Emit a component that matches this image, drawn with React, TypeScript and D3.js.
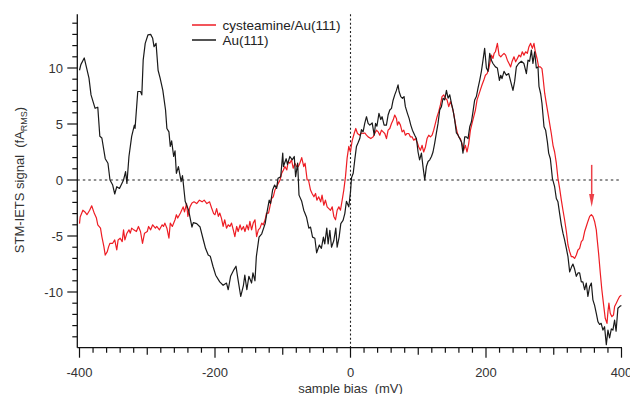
import React from "react";
import * as d3 from "d3";

// Tunnelling spectra: [sample bias (mV), STM-IETS signal (fA_RMS)]
const auSeries: [number, number][] = [
  [-400, 9.8], [-398, 10.3], [-393, 10.9], [-386, 9.1], [-383, 7.6], [-377, 6.4], [-373, 6.5], [-370, 3.9], [-367, 3.75],
  [-362, 1.9], [-358, 1.5], [-355, 0], [-351, -0.45], [-348, -1.25], [-345, -0.6], [-341, -0.75], [-335, 0], [-332, 0.75],
  [-330, -0.3], [-327, 2.1], [-323, 3.9], [-319, 4.9], [-318, 4.6], [-314, 7.9], [-310, 7.9], [-308, 7.6], [-306, 10.7],
  [-303, 12.2], [-299, 12.95], [-295, 13.0], [-292, 12.65], [-290, 11.9], [-287, 12.2], [-284, 9.8], [-281, 9.1], [-277, 8.0],
  [-273, 6.25], [-271, 4.6], [-268, 4.3], [-266, 3.0], [-264, 3.5], [-261, 2.1], [-259, 2.6], [-257, 0.6], [-254, 1.2],
  [-250, -0.15], [-248, 0.4], [-244, -1.9], [-239, -2.7], [-234, -4.2], [-232, -3.8], [-227, -3.9], [-222, -4.2], [-217, -5.4],
  [-214, -6.1], [-210, -6.7], [-207, -6.8], [-203, -7.7], [-199, -8.5], [-193, -9.1], [-188, -9.4], [-183, -9.2], [-180.5, -9.8],
  [-177, -8.6], [-172, -8.0], [-169, -7.7], [-166, -8.9], [-162, -10.4], [-158, -9.4], [-156, -8.5], [-153, -9.8], [-150, -8.6],
  [-146, -9.2], [-144, -8.3], [-141, -9.0], [-139, -6.85], [-135, -5.1], [-131, -4.8], [-126, -3.9], [-123, -2.8], [-120, -1.8],
  [-118, -2.1], [-115, -0.9], [-112, -0.45], [-109, -0.75], [-107, 0.15], [-103, 0.3], [-100, 2.4], [-99, 1.2], [-95, 1.9],
  [-93, 1.4], [-89.5, 2.1], [-86, 1.8], [-83, 2.1], [-81, 0.3], [-78, 1.5], [-76, -1.35], [-72, -1.9], [-69, -2.7], [-65, -3.3],
  [-61.5, -4.3], [-59, -4.2], [-56, -5.1], [-52.6, -5.2], [-50, -6.5], [-46, -5.8], [-43, -6.1], [-40, -5.1], [-38, -5.7],
  [-35, -4.3], [-33, -5.7], [-30.5, -4.5], [-28, -6.0], [-24.6, -5.4], [-21.7, -4.3], [-19.7, -6.0], [-16.8, -5.1], [-14.3, -3.9],
  [-11, -3.6], [-8.4, -3.0], [-6, -1.9], [-2.5, -2.4], [0, -1.05], [1.5, 0.2], [4, 0.6], [6.3, 1.8], [8.8, 3.0], [11, 3.3],
  [13.7, 3.7], [16.2, 4.5], [18.6, 4.3], [21, 5.05], [23.6, 5.65], [26, 5.05], [28.5, 4.9], [32, 5.1], [35, 4.0], [37, 5.05],
  [39, 4.8], [42, 5.95], [44.7, 5.4], [46.6, 5.65], [49.6, 4.9], [53, 4.9], [55.5, 5.8], [58, 6.25], [60.5, 6.4], [62.8, 7.1],
  [65.3, 7.6], [67.8, 8.0], [70.2, 8.5], [71.7, 7.9], [74.2, 7.45], [76.7, 7.3], [79, 7.45], [81, 6.55], [84, 5.95], [86.5, 5.5],
  [89, 4.9], [91.4, 4.45], [94.8, 4.0], [97.3, 3.7], [99.7, 2.5], [102, 1.8], [104.7, 2.4], [107, 1.2], [109.6, 0], [112, 1.2],
  [114.5, 1.65], [117, 1.8], [119.5, 2.1], [121.8, 2.5], [124.3, 3.3], [126.8, 4.2], [129.2, 5.05], [131.7, 6.25], [134.2, 6.55],
  [136.6, 7.3], [139, 7.15], [141.6, 8.0], [144, 7.3], [146.5, 7.6], [149, 6.85], [151.3, 6.25], [153.8, 5.35], [156.3, 4.2],
  [158.8, 4.0], [161.2, 3.7], [163.7, 3.4], [166, 2.4], [168.6, 3.85], [171, 3.85], [173.5, 3.7], [176, 4.75], [178.5, 5.2],
  [180.8, 6.1], [183.3, 7.15], [185.8, 7.45], [188.2, 8.2], [190.7, 8.9], [193.2, 9.7], [195.6, 10.7], [198, 11.75], [200.6, 10.0],
  [203, 9.7], [205.5, 11.3], [208, 10.7], [210.3, 10.4], [213.9, 10.1], [216.8, 10.0], [219.8, 8.9], [221.8, 9.35], [223.6, 9.05],
  [226.6, 9.7], [230, 9.35], [233.5, 9.5], [236.4, 8.8], [239.8, 8.0], [242.3, 8.8], [244.8, 10.1], [248.2, 10.4], [252.2, 10.6],
  [256, 10.4], [259.6, 9.5], [262, 10.7], [264.4, 10.6], [267, 11.6], [269.3, 10.4], [271.8, 11.45], [274.3, 10.0], [276.7, 10.1],
  [278.2, 8.35], [280.7, 7.7], [282.6, 6.85], [285.6, 4.75], [288, 4.45], [290.6, 3.4], [292.5, 2.4], [295, 1.9], [298, 0.15],
  [301.3, -0.6], [303.8, -1.65], [306.2, -1.95], [308.7, -3.0], [311.2, -4.0], [313.6, -4.75], [316, -5.35], [318.6, -6.1],
  [321, -6.85], [323.5, -8.2], [326, -7.8], [328.3, -7.5], [330.8, -7.95], [333.3, -8.6], [335.8, -8.3], [338.2, -8.3],
  [340.7, -9.1], [343, -9.1], [345.6, -9.8], [348, -9.2], [350.4, -10.4], [353, -9.5], [355.5, -9.2], [357.8, -10.7],
  [360.3, -11.2], [362.8, -11.9], [365.2, -12.65], [367.7, -12.9], [370, -12.8], [372.6, -13.4], [375, -13.1], [377.6, -14.7],
  [380, -13.4], [382.4, -14.1], [385, -13.3], [387.3, -13.4], [389.8, -12.5], [392, -13.5], [394.7, -11.45], [397.2, -11.3],
  [399.8, -11.2],
];

const cysteamineSeries: [number, number][] = [
  [-400, -3.9], [-399, -3.3], [-395, -2.7], [-392, -2.85], [-389, -3.1], [-385, -2.7], [-382, -2.3], [-378, -3.0], [-375, -3.4],
  [-373, -4.0], [-369, -4.3], [-367, -5.05], [-364, -5.95], [-362, -6.7], [-359, -6.4], [-357, -5.95], [-355, -5.65], [-351, -5.65],
  [-348, -5.35], [-345, -6.25], [-343, -5.35], [-340, -5.2], [-337, -5.5], [-335, -4.45], [-333, -5.35], [-330, -4.75], [-327, -4.45],
  [-325, -4.75], [-323, -4.3], [-320, -4.45], [-316, -4.6], [-313, -4.15], [-310, -4.6], [-307, -5.65], [-304, -4.75], [-300, -4.6],
  [-298, -4.15], [-295, -4.45], [-292, -4.0], [-288, -4.3], [-286, -4.15], [-282, -4.45], [-278, -4.0], [-276, -4.15], [-274, -3.85],
  [-271, -4.3], [-268, -5.2], [-266, -3.85], [-263, -4.15], [-259, -3.55], [-257, -3.1], [-255, -3.4], [-251, -2.95], [-247, -2.4],
  [-245, -2.85], [-242, -2.1], [-240, -3.25], [-237, -2.4], [-234, -2.05], [-231, -1.95], [-227, -2.1], [-223, -1.8], [-219, -1.95],
  [-216, -1.8], [-212, -2.1], [-208, -1.95], [-205, -2.5], [-202, -3.0], [-200, -3.1], [-197.6, -2.55], [-195, -3.25], [-193, -2.95],
  [-190.5, -3.4], [-188, -4.15], [-185.6, -3.55], [-183, -4.3], [-180.5, -4.0], [-178, -4.15], [-175.6, -3.85], [-173, -4.45],
  [-170.7, -5.05], [-168, -4.15], [-165.8, -4.6], [-163, -4.0], [-160.8, -4.45], [-158, -4.15], [-155.8, -4.6], [-153, -4.0],
  [-150.7, -4.45], [-148.5, -3.7], [-146, -4.45], [-143.6, -3.85], [-141, -3.55], [-138.6, -5.05], [-136, -4.45], [-133.6, -4.3],
  [-131, -3.85], [-128.7, -4.0], [-126, -3.55], [-124, -2.95], [-121, -2.95], [-119, -2.4], [-116.5, -1.65], [-114, -1.5],
  [-111.6, -0.9], [-109, -0.6], [-106.6, -0.3], [-104, 0], [-101.6, 0.6], [-99, 0.9], [-96.9, 1.2], [-94, 0.9], [-92, 1.65],
  [-89.5, 1.5], [-87, 1.8], [-84.6, 1.05], [-82, 1.5], [-79.6, 1.2], [-77, 1.2], [-74.8, 1.5], [-72, 2.0], [-69, 1.2], [-67, 1.5],
  [-64, 0], [-62, 0], [-59, -0.9], [-56.7, -1.2], [-54, -1.5], [-51.6, -1.2], [-49.6, -1.8], [-47, -1.5], [-44, -1.95],
  [-42, -1.35], [-39.4, -2.25], [-37, -1.8], [-34.5, -2.4], [-32, -2.55], [-29.5, -2.7], [-27, -2.4], [-24.6, -3.25],
  [-22.1, -3.55], [-19.7, -2.7], [-17.2, -2.4], [-14.8, -2.7], [-12.3, -1.8], [-9.9, -0.9], [-7.4, 0.3], [-5, 1.95], [-2.5, 3.0],
  [-0.1, 2.5], [2.4, 3.5], [5.4, 4.15], [7.8, 4.6], [10.3, 4.15], [13.7, 4.0], [16.2, 4.2], [18.6, 4.15], [21, 4.2], [23.6, 4.0],
  [26, 3.85], [30, 3.7], [33.4, 3.85], [35.8, 4.15], [38.3, 4.45], [40.8, 4.3], [43.2, 4.0], [45.7, 4.45], [48.2, 4.3],
  [50.6, 4.15], [53.1, 3.7], [55.5, 4.45], [58, 4.6], [60.5, 5.05], [62.9, 5.35], [65.3, 5.8], [67.8, 5.5], [69.3, 4.9],
  [71.2, 5.2], [73.7, 4.9], [76.2, 4.3], [78.6, 4.45], [81, 4.0], [83.5, 4.15], [86, 4.15], [88.5, 3.85], [91, 3.85], [93.3, 3.55],
  [95.8, 3.7], [98.3, 3.4], [100.7, 2.95], [103.2, 2.65], [105.7, 3.1], [108, 2.5], [110.6, 2.95], [113, 3.7], [115.5, 4.0],
  [118, 3.85], [120.4, 4.0], [122.8, 4.45], [125.3, 5.05], [127.8, 5.65], [130.2, 6.1], [132.7, 6.7], [135.1, 7.45], [137.6, 7.6],
  [140, 7.3], [142.5, 7.15], [145, 6.55], [147.5, 7.0], [149.9, 6.55], [152.3, 5.95], [154.8, 5.05], [157.3, 4.3], [159.7, 3.85],
  [162.2, 3.7], [164.6, 3.25], [167, 2.65], [169.6, 3.1], [172, 2.5], [174.5, 3.25], [177, 4.45], [179.4, 5.05], [181.9, 5.65],
  [184.4, 6.25], [186.8, 7.15], [189.3, 7.6], [191.7, 8.05], [194.2, 8.5], [196.7, 8.9], [199.1, 9.35], [201.6, 9.5], [204, 9.9],
  [205.5, 10.4], [208, 11.15], [210.3, 10.85], [212, 11.3], [213.9, 11.45], [216.8, 12.2], [219.3, 11.15], [221.8, 11.0],
  [224, 11.15], [226.6, 11.3], [229, 11.15], [231.5, 10.7], [234, 10.4], [236.4, 10.1], [238.3, 10.55], [241.3, 11.0],
  [243.8, 10.55], [246.3, 10.85], [248.7, 11.15], [251.2, 11.0], [253.6, 11.45], [256, 11.15], [258.5, 11.45], [261, 11.3],
  [263.4, 11.9], [265.9, 12.2], [268.4, 11.75], [270.8, 12.2], [272.8, 11.45], [275.3, 10.85], [277.7, 10.1], [280.2, 10.1],
  [282.6, 9.95], [284.1, 9.2], [286.6, 7.75], [289, 6.85], [291.5, 5.95], [293.9, 5.05], [296.4, 4.15], [298.9, 3.1], [301.3, 2.5],
  [303.8, 1.5], [306.2, 0.15], [308.7, -0.75], [311.2, -1.8], [313.6, -2.7], [316, -3.55], [318.6, -4.6], [321, -5.8],
  [323.5, -6.4], [326, -6.85], [328.3, -6.85], [330.8, -7.0], [333.3, -6.7], [335.7, -6.25], [338.2, -6.1], [340.7, -5.5],
  [343, -5.35], [345.6, -4.6], [348, -4.15], [350.4, -3.7], [353, -3.25], [355.5, -3.1], [357.8, -3.25], [360.3, -3.7],
  [362.8, -4.45], [364.2, -5.35], [366.2, -6.55], [368.7, -8.3], [371, -9.8], [373.6, -11.15], [376, -12.35], [378.6, -12.8],
  [380, -11.75], [381.4, -11.0], [383.4, -11.9], [385.8, -12.2], [388.2, -12.05], [389.8, -11.3], [392.3, -11.0], [394.7, -10.7],
  [397.2, -10.4], [399.8, -10.3],
];

const seriesNames = ["cysteamine/Au(111)", "Au(111)"];
const seriesColors = ["#ee1d24", "#1a1a1a"];
const xTickLabels = [-400, -200, 0, 200, 400];
const yTickLabels = [-10, -5, 0, 5, 10];
// Marked feature on the cysteamine spectrum: bias (mV), arrow top and tip (fA_RMS)
const markerBias = 356;
const markerFrom = 1.35;
const markerTo = -2.4;

const W = 630;
const H = 394;
const FONT = "'Liberation Sans', Arial, Helvetica, sans-serif";

export default function App() {
  const x = d3.scaleLinear().domain([-400, 400]).range([79.5, 621.5]);
  const y = d3.scaleLinear().domain([-15, 15]).range([348, 12]);
  const axisX = 77.3;
  const axisY = 347.7;
  const topY = y(14.8);

  const line = d3
    .line<[number, number]>()
    .x((d) => x(d[0]))
    .y((d) => y(d[1]));

  const yMinor = d3.range(-14, 15, 1);
  const xMinor = d3.range(-400, 401, 20);

  const arrowTipY = y(markerTo);
  const arrowX = x(markerBias);

  return (
    <svg width={W} height={H} style={{ position: "absolute", left: 0, top: 0 }}>
      <rect width={W} height={H} fill="#fff" />

      {/* zero reference lines */}
      <line x1={axisX} x2={x(400)} y1={y(0)} y2={y(0)} stroke="#222" strokeWidth={1.1} strokeDasharray="2.5,3" />
      <line x1={x(0)} x2={x(0)} y1={topY} y2={axisY} stroke="#222" strokeWidth={1.1} strokeDasharray="2,2.2" />

      {/* spectra */}
      <path d={line(cysteamineSeries) || ""} fill="none" stroke={seriesColors[0]} strokeWidth={1.2} strokeLinejoin="round" />
      <path d={line(auSeries) || ""} fill="none" stroke={seriesColors[1]} strokeWidth={1.2} strokeLinejoin="round" />

      {/* arrow marking the feature */}
      <line x1={arrowX} x2={arrowX} y1={y(markerFrom)} y2={arrowTipY - 8} stroke="#ec4048" strokeWidth={1.5} />
      <path
        d={`M${arrowX - 2.6},${arrowTipY - 13} L${arrowX + 2.6},${arrowTipY - 13} L${arrowX},${arrowTipY} Z`}
        fill="#ec4048"
      />

      {/* left axis */}
      <line x1={axisX} x2={axisX} y1={topY} y2={axisY} stroke="#111" strokeWidth={1.3} />
      {yMinor.map((v) => {
        const major = yTickLabels.includes(v);
        return (
          <line key={`yt${v}`} x1={axisX - (major ? 10 : 5)} x2={axisX} y1={y(v)} y2={y(v)} stroke="#111" strokeWidth={1.2} />
        );
      })}
      {yTickLabels.map((v) => (
        <text key={`yl${v}`} x={63} y={y(v) + 4.6} textAnchor="end" fontFamily={FONT} fontSize={13} fill="#333">
          {v}
        </text>
      ))}

      {/* bottom axis */}
      <line x1={axisX} x2={x(400) + 0.5} y1={axisY} y2={axisY} stroke="#111" strokeWidth={1.3} />
      {xMinor.map((v) => {
        const major = xTickLabels.includes(v);
        const mid = !major && v % 100 === 0;
        const len = major ? 10 : mid ? 7 : 5;
        return <line key={`xt${v}`} x1={x(v)} x2={x(v)} y1={axisY} y2={axisY + len} stroke="#111" strokeWidth={1.2} />;
      })}
      {xTickLabels.map((v) => (
        <text key={`xl${v}`} x={x(v)} y={377} textAnchor="middle" fontFamily={FONT} fontSize={13} fill="#333">
          {v}
        </text>
      ))}

      {/* axis titles */}
      <text
        x={x(0)}
        y={393}
        textAnchor="middle"
        fontFamily={FONT}
        fontSize={13}
        fill="#333"
        style={{ whiteSpace: "pre" }}
      >
        {"sample bias  (mV)"}
      </text>
      <text
        transform="translate(23.5,180) rotate(-90)"
        textAnchor="middle"
        fontFamily={FONT}
        fontSize={13}
        fill="#333"
        style={{ whiteSpace: "pre" }}
      >
        {"STM-IETS signal  (fA"}
        <tspan fontSize={9} dy={3}>RMS</tspan>
        <tspan dy={-3}>)</tspan>
      </text>

      {/* legend */}
      {seriesNames.map((name, i) => (
        <g key={name} transform={`translate(192,${25 + i * 15})`}>
          <line x1={0} x2={24} y1={0} y2={0} stroke={seriesColors[i]} strokeWidth={1.5} />
          <text x={30.5} y={4.8} fontFamily={FONT} fontSize={13.5} fill="#222">
            {name}
          </text>
        </g>
      ))}
    </svg>
  );
}
